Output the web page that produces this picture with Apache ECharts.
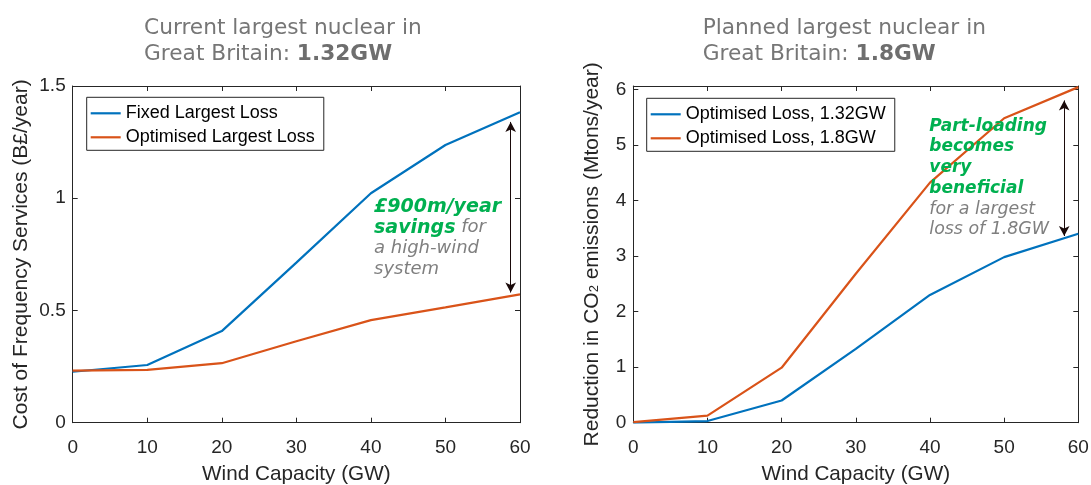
<!DOCTYPE html>
<html>
<head>
<meta charset="utf-8">
<script src="https://cdn.jsdelivr.net/npm/echarts@6/dist/echarts.min.js"></script>
<style>
html,body{margin:0;padding:0;background:#fff;}
#c{width:1091px;height:485px;}
</style>
</head>
<body>
<div id="c"></div>
<script>
// ---- data ----
const windGW = [0, 10, 20, 30, 40, 50, 60];
const fixedLargestLoss = [0.227, 0.257, 0.408, 0.713, 1.022, 1.237, 1.383];
const optimisedLargestLoss = [0.232, 0.235, 0.265, 0.363, 0.457, 0.514, 0.572];
const optLoss132 = [0, 0.03, 0.40, 1.33, 2.30, 2.98, 3.40];
const optLoss18 = [0.01, 0.126, 0.99, 2.68, 4.32, 5.48, 6.04];
const leftArrow = [58.75, 1.34, 0.58];   // x, y-from, y-to
const rightArrow = [58.1, 5.80, 3.36];
const leftTicksY = [0, 0.5, 1, 1.5];
const rightTicksY = [0, 1, 2, 3, 4, 5, 6];

const AX = '#262626';
const BLUE = '#0072BD';
const ORANGE = '#D95319';
const GREEN = '#00B050';
const GREY = '#7f7f7f';
const FONT = '"Liberation Sans", Arial, sans-serif';
const VFONT = '"DejaVu Sans", Verdana, sans-serif';

function pairs(xs, ys) { return xs.map((x, i) => [x, ys[i]]); }

function xAxes(gi) {
  const base = {
    type: 'value', gridIndex: gi, min: 0, max: 60, interval: 10,
    axisLine: { show: true, onZero: false, lineStyle: { color: AX, width: 1 } },
    axisTick: { show: true, inside: true, length: 5, lineStyle: { color: AX, width: 1 } },
    splitLine: { show: false }
  };
  return [
    Object.assign({}, base, {
      position: 'bottom',
      axisLabel: { color: AX, fontSize: 19, fontFamily: FONT, margin: 16 },
      name: 'Wind Capacity (GW)', nameLocation: 'middle', nameGap: 41,
      nameTextStyle: { color: AX, fontSize: 20.7, fontFamily: FONT }
    }),
    Object.assign({}, base, { position: 'top', axisLabel: { show: false } })
  ];
}

function yAxes(gi, max, interval, ticks, name, nameGap, rich) {
  const base = {
    type: 'value', gridIndex: gi, min: 0, max: max, interval: interval,
    axisLine: { show: true, onZero: false, lineStyle: { color: AX, width: 1 } },
    axisTick: { show: true, inside: true, length: 5, lineStyle: { color: AX, width: 1 } },
    splitLine: { show: false }
  };
  return [
    Object.assign({}, base, {
      position: 'left',
      axisLabel: {
        color: AX, fontSize: 19, fontFamily: FONT, margin: 7,
        formatter: v => (ticks.some(t => Math.abs(t - v) < 1e-9) ? String(v) : '')
      },
      name: name, nameLocation: 'middle', nameGap: nameGap,
      nameTextStyle: Object.assign({ color: AX, fontSize: 21, fontFamily: FONT }, rich ? { rich: rich } : {})
    }),
    Object.assign({}, base, { position: 'right', axisLabel: { show: false } })
  ];
}

function legend(left, top, names) {
  return {
    orient: 'vertical', left: left, top: top,
    padding: [7, 9, 4, 4], itemWidth: 30, itemHeight: 2.2, itemGap: 6,
    icon: 'rect',
    borderColor: AX, borderWidth: 1, borderRadius: 0, backgroundColor: '#fff',
    textStyle: { color: '#000', fontSize: 18, fontFamily: FONT },
    data: names
  };
}

function arrowLine(a) {
  return {
    silent: true, symbol: ['arrow', 'arrow'], symbolSize: [8, 10],
    lineStyle: { color: '#1a0a0a', width: 1, type: 'solid' },
    label: { show: false }, emphasis: { disabled: true },
    data: [[{ coord: [a[0], a[1]] }, { coord: [a[0], a[2]] }]]
  };
}

const subRich = {
  a: { fontSize: 21, fontFamily: FONT, color: AX, lineHeight: 20, verticalAlign: 'top' },
  s: { fontSize: 13, fontFamily: FONT, color: AX, lineHeight: 13, verticalAlign: 'bottom', padding: [16, 0, 0, 0] }
};

const xs = xAxes(0).concat(xAxes(1));
const ys = yAxes(0, 1.5, 0.5, leftTicksY, 'Cost of Frequency Services (B£/year)', 41, null)
  .concat(yAxes(1, 6.06, 1, rightTicksY, '{a|Reduction in CO}{s|2}{a| emissions (Mtons/year)}', 32, subRich));

function lineSeries(name, color, xi, yi, data, mark) {
  const s = {
    type: 'line', name: name, xAxisIndex: xi, yAxisIndex: yi,
    data: data, symbol: 'none', showSymbol: false, smooth: false,
    lineStyle: { color: color, width: 2.2 }, itemStyle: { color: color },
    emphasis: { disabled: true }
  };
  if (mark) s.markLine = mark;
  return s;
}

const titleRich = {
  n: { fontFamily: VFONT, fontSize: 21.7, fill: '#767676', lineHeight: 26.7 },
  b: { fontFamily: VFONT, fontSize: 21.7, fill: '#6e6e6e', fontWeight: 'bold', lineHeight: 26.7 }
};
const noteRichL = {
  g: { fontFamily: VFONT, fontSize: 19, fill: GREEN, fontWeight: 'bold', fontStyle: 'italic', lineHeight: 20.7 },
  i: { fontFamily: VFONT, fontSize: 18, fill: GREY, fontStyle: 'italic', lineHeight: 20.7 }
};
const noteRichR = {
  g: { fontFamily: VFONT, fontSize: 17, fill: GREEN, fontWeight: 'bold', fontStyle: 'italic', lineHeight: 20.7 },
  i: { fontFamily: VFONT, fontSize: 17.4, fill: GREY, fontStyle: 'italic', lineHeight: 20.7 }
};

const option = {
  animation: false,
  backgroundColor: '#fff',
  grid: [
    { left: 72.7, top: 86, width: 447.3, height: 336.7, containLabel: false, outerBoundsMode: 'none' },
    { left: 633.3, top: 86, width: 445, height: 336.7, containLabel: false, outerBoundsMode: 'none' }
  ],
  xAxis: xs,
  yAxis: ys,
  legend: [
    legend(86.7, 97.3, ['Fixed Largest Loss', 'Optimised Largest Loss']),
    legend(646.7, 98.3, ['Optimised Loss, 1.32GW', 'Optimised Loss, 1.8GW'])
  ],
  series: [
    lineSeries('Fixed Largest Loss', BLUE, 0, 0, pairs(windGW, fixedLargestLoss), arrowLine(leftArrow)),
    lineSeries('Optimised Largest Loss', ORANGE, 0, 0, pairs(windGW, optimisedLargestLoss)),
    lineSeries('Optimised Loss, 1.32GW', BLUE, 2, 2, pairs(windGW, optLoss132), arrowLine(rightArrow)),
    lineSeries('Optimised Loss, 1.8GW', ORANGE, 2, 2, pairs(windGW, optLoss18))
  ],
  graphic: [
    { type: 'text', left: 144, top: 17, silent: true,
      style: { text: '{n|Current largest nuclear in}\n{n|Great Britain: }{b|1.32GW}', rich: titleRich } },
    { type: 'text', left: 702.7, top: 17, silent: true,
      style: { text: '{n|Planned largest nuclear in}\n{n|Great Britain: }{b|1.8GW}', rich: titleRich } },
    { type: 'text', left: 374, top: 197.5, silent: true, z: 10,
      style: { text: '{g|£900m/year}\n{g|savings}{i| for}\n{i|a high-wind}\n{i|system}', rich: noteRichL } },
    { type: 'text', left: 929.3, top: 117.7, silent: true, z: 10,
      style: { text: '{g|Part-loading}\n{g|becomes}\n{g|very}\n{g|beneficial}\n{i|for a largest}\n{i|loss of 1.8GW}', rich: noteRichR } }
  ]
};

const chart = echarts.init(document.getElementById('c'), null, { renderer: 'canvas' });
chart.setOption(option);
</script>
</body>
</html>
